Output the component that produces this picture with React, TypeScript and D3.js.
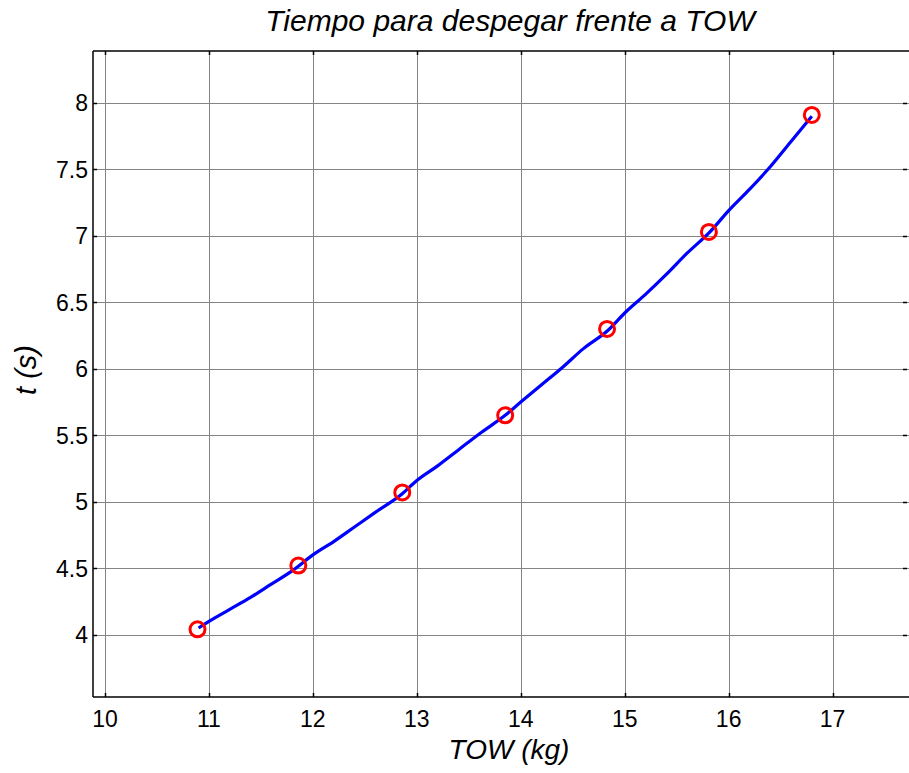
import React from 'react'
import * as d3 from 'd3'

// marker points (TOW kg, t s)
const towPoints = [10.89, 11.86, 12.86, 13.85, 14.83, 15.81, 16.8]
const tPoints = [4.04, 4.52, 5.07, 5.65, 6.3, 7.03, 7.91]

// simulated curve
const towCurve = [
  10.9, 11.0, 11.2, 11.4, 11.6, 11.8, 12.0, 12.2, 12.4, 12.6, 12.86, 13.0,
  13.2, 13.4, 13.6, 13.85, 14.0, 14.2, 14.4, 14.6, 14.84, 15.0, 15.2, 15.4,
  15.6, 15.82, 16.0, 16.2, 16.4, 16.6, 16.8,
]
const tCurve = [
  4.05, 4.1, 4.19, 4.28, 4.38, 4.48, 4.6, 4.7, 4.81, 4.92, 5.06, 5.16, 5.27,
  5.39, 5.51, 5.65, 5.75, 5.88, 6.01, 6.15, 6.29, 6.42, 6.56, 6.71, 6.87,
  7.03, 7.19, 7.35, 7.52, 7.71, 7.9,
]

const xTicks = [10, 11, 12, 13, 14, 15, 16, 17]
const yTicks = [4, 4.5, 5, 5.5, 6, 6.5, 7, 7.5, 8]

const W = 909
const H = 773
const plot = { left: 93, right: 909, top: 51, bottom: 697 }

export default function App() {
  const x = d3.scaleLinear().domain([9.8846, 17.735]).range([plot.left, plot.right])
  const y = d3.scaleLinear().domain([3.531, 8.391]).range([plot.bottom, plot.top])

  const line = d3
    .line<number>()
    .x((_, i) => x(towCurve[i]))
    .y((d) => y(d))
    .curve(d3.curveMonotoneX)

  const font = 'Liberation Sans, Arial, sans-serif'
  const tickLen = 4

  return (
    <svg
      width={W}
      height={H}
      style={{ position: 'absolute', left: 0, top: 0, background: '#fff' }}
      fontFamily={font}
    >
      <rect x={0} y={0} width={W} height={H} fill="#fff" />

      {/* grid */}
      {xTicks.map((t) => (
        <line
          key={'gx' + t}
          x1={Math.round(x(t)) + 0.5}
          x2={Math.round(x(t)) + 0.5}
          y1={plot.top}
          y2={plot.bottom}
          stroke="#858585"
          strokeWidth={1}
        />
      ))}
      {yTicks.map((t) => (
        <line
          key={'gy' + t}
          x1={plot.left}
          x2={plot.right}
          y1={Math.round(y(t)) + 0.5}
          y2={Math.round(y(t)) + 0.5}
          stroke="#858585"
          strokeWidth={1}
        />
      ))}

      {/* ticks */}
      {xTicks.map((t) => {
        const px = Math.round(x(t)) + 0.5
        return (
          <g key={'tx' + t} stroke="#000" strokeWidth={1.5}>
            <line x1={px} x2={px} y1={plot.bottom} y2={plot.bottom - tickLen} />
            <line x1={px} x2={px} y1={plot.top} y2={plot.top + tickLen} />
          </g>
        )
      })}
      {yTicks.map((t) => {
        const py = Math.round(y(t)) + 0.5
        return (
          <g key={'ty' + t} stroke="#000" strokeWidth={1.5}>
            <line x1={plot.left} x2={plot.left + tickLen} y1={py} y2={py} />
            <line x1={plot.right - 2} x2={plot.right - 2 - tickLen} y1={py} y2={py} />
          </g>
        )
      })}

      {/* axes box */}
      <line x1={plot.left} x2={plot.right} y1={plot.top} y2={plot.top} stroke="#000" strokeWidth={1.5} />
      <line x1={plot.left} x2={plot.right} y1={plot.bottom} y2={plot.bottom} stroke="#000" strokeWidth={1.5} />
      <line x1={plot.left} x2={plot.left} y1={plot.top} y2={plot.bottom} stroke="#000" strokeWidth={1.5} />

      {/* tick labels */}
      {xTicks.map((t) => (
        <text key={'lx' + t} x={x(t)} y={727} textAnchor="middle" fontSize={23} fill="#000">
          {t}
        </text>
      ))}
      {yTicks.map((t) => (
        <text
          key={'ly' + t}
          x={plot.left - 5}
          y={y(t) + 8.5}
          textAnchor="end"
          fontSize={23}
          fill="#000"
        >
          {t}
        </text>
      ))}

      {/* data */}
      <path d={line(tCurve) ?? ''} fill="none" stroke="#0000ff" strokeWidth={3.2} strokeLinejoin="round" />
      {towPoints.map((v, i) => (
        <circle key={'m' + i} cx={x(v)} cy={y(tPoints[i])} r={7.5} fill="none" stroke="#ff0000" strokeWidth={3} />
      ))}

      {/* titles */}
      <text x={510} y={31} textAnchor="middle" fontSize={30} fontStyle="italic" fill="#000">
        Tiempo para despegar frente a TOW
      </text>
      <text x={509} y={759} textAnchor="middle" fontSize={28} fontStyle="italic" fill="#000">
        TOW (kg)
      </text>
      <text
        transform="translate(36,370) rotate(-90)"
        textAnchor="middle"
        fontSize={29}
        fontStyle="italic"
        fill="#000"
      >
        t (s)
      </text>
    </svg>
  )
}
